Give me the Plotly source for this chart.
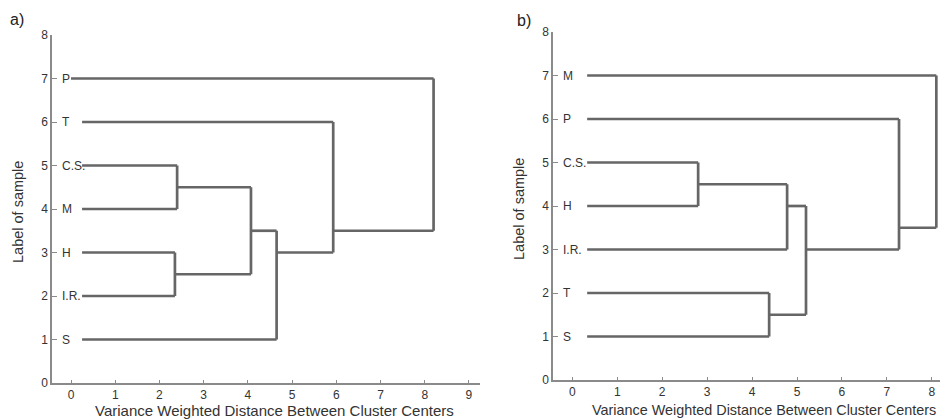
import plotly.graph_objects as go

# ---------------- Panel a data ----------------
leaves_a = ["S", "I.R.", "H", "M", "C.S.", "T", "P"]          # y = 1..7
leaf_start_a = [0.25, 0.25, 0.25, 0.25, 0.25, 0.25, 0.0]
merge_left_a = ["C.S.", "H", "m0", "m2", "m3", "m4"]
merge_right_a = ["M", "I.R.", "m1", "S", "T", "P"]
merge_height_a = [2.4, 2.35, 4.07, 4.65, 5.93, 8.2]
merge_y_a = [4.5, 2.5, 3.5, 3.0, 3.5, 3.5]

# ---------------- Panel b data ----------------
leaves_b = ["S", "T", "I.R.", "H", "C.S.", "P", "M"]          # y = 1..7
leaf_start_b = [0.33, 0.33, 0.33, 0.33, 0.33, 0.33, 0.33]
merge_left_b = ["C.S.", "m0", "T", "m1", "m3", "m4"]
merge_right_b = ["H", "I.R.", "S", "m2", "P", "M"]
merge_height_b = [2.8, 4.78, 4.38, 5.2, 7.27, 8.1]
merge_y_b = [4.5, 4.0, 1.5, 3.0, 3.5, 3.5]

y_ticks = [0, 1, 2, 3, 4, 5, 6, 7, 8]
x_ticks_a = [0, 1, 2, 3, 4, 5, 6, 7, 8, 9]
x_ticks_b = [0, 1, 2, 3, 4, 5, 6, 7, 8]

LINE = "#666666"
AXIS = "#8a8a8a"
TXT = "#333333"
FONT = "Arial, Liberation Sans, sans-serif"
XTITLE = "Variance Weighted Distance Between Cluster Centers"
YTITLE = "Label of sample"


def segments(leaves, starts, left, right, heights, ys):
    pos = {}
    for i, name in enumerate(leaves):
        pos[name] = (starts[i], i + 1)
    xs, yv = [], []
    for i in range(len(heights)):
        h = heights[i]
        for child in (left[i], right[i]):
            cx, cy = pos[child]
            xs += [cx, h, None]
            yv += [cy, cy, None]
        y1 = pos[left[i]][1]
        y2 = pos[right[i]][1]
        xs += [h, h, None]
        yv += [y1, y2, None]
        pos["m%d" % i] = (h, ys[i])
    return xs, yv


fig = go.Figure()
xa, ya = segments(leaves_a, leaf_start_a, merge_left_a, merge_right_a, merge_height_a, merge_y_a)
xb, yb = segments(leaves_b, leaf_start_b, merge_left_b, merge_right_b, merge_height_b, merge_y_b)
fig.add_trace(go.Scatter(x=xa, y=ya, mode="lines", line=dict(color=LINE, width=2.7),
                         xaxis="x", yaxis="y", showlegend=False, hoverinfo="skip"))
fig.add_trace(go.Scatter(x=xb, y=yb, mode="lines", line=dict(color=LINE, width=2.7),
                         xaxis="x2", yaxis="y2", showlegend=False, hoverinfo="skip"))

# page body has an 8px margin, so the figure is drawn offset by 8px
OFF = 8
W, H = 948 - OFF, 419 - OFF


def px_x(p):
    return (p - OFF) / W


def px_y(p):
    return (H - (p - OFF)) / H


common_x = dict(showgrid=False, zeroline=False, showline=True, linecolor=AXIS, linewidth=1.5,
                ticks="inside", ticklen=3, tickcolor=AXIS, tickwidth=1, automargin=False,
                tickfont=dict(family=FONT, size=12, color=TXT))
common_y = dict(showgrid=False, zeroline=False, showline=True, linecolor=AXIS, linewidth=1.5,
                ticks="inside", ticklen=5, tickcolor=AXIS, tickwidth=1, automargin=False,
                tickfont=dict(family=FONT, size=12, color=TXT),
                range=[0, 8], tickvals=y_ticks)

fig.update_layout(
    template="none",
    width=W, height=H,
    margin=dict(l=0, r=0, t=0, b=0, pad=0),
    paper_bgcolor="white", plot_bgcolor="white",
    xaxis=dict(common_x, domain=[px_x(52), px_x(480)], range=[-0.43, 9.25],
               tickvals=x_ticks_a, anchor="y"),
    yaxis=dict(common_y, domain=[px_y(383), px_y(35)], anchor="x"),
    xaxis2=dict(common_x, domain=[px_x(553), 1.0], range=[-0.43, 8.36],
                tickvals=x_ticks_b, anchor="y2"),
    yaxis2=dict(common_y, domain=[px_y(380), px_y(32)], anchor="x2"),
)

ann = []
for i, name in enumerate(leaves_a):
    ann.append(dict(x=-0.22, y=i + 1, xref="x", yref="y", text=name, showarrow=False,
                    xanchor="left", yanchor="middle", xshift=-1, font=dict(family=FONT, size=12, color=TXT)))
for i, name in enumerate(leaves_b):
    ann.append(dict(x=-0.22, y=i + 1, xref="x2", yref="y2", text=name, showarrow=False,
                    xanchor="left", yanchor="middle", xshift=-1, font=dict(family=FONT, size=12, color=TXT)))

ann += [
    dict(x=px_x(274), y=px_y(410), xref="paper", yref="paper", text=XTITLE, showarrow=False,
         xanchor="center", yanchor="middle", font=dict(family=FONT, size=15, color=TXT)),
    dict(x=px_x(764), y=px_y(410), xref="paper", yref="paper", text=XTITLE, showarrow=False,
         xanchor="center", yanchor="middle", font=dict(family=FONT, size=14.4, color=TXT)),
    dict(x=px_x(18), y=px_y(212), xref="paper", yref="paper", text=YTITLE, showarrow=False,
         textangle=-90, xanchor="center", yanchor="middle", font=dict(family=FONT, size=14.5, color=TXT)),
    dict(x=px_x(519), y=px_y(209), xref="paper", yref="paper", text=YTITLE, showarrow=False,
         textangle=-90, xanchor="center", yanchor="middle", font=dict(family=FONT, size=14.5, color=TXT)),
    dict(x=px_x(17), y=px_y(20), xref="paper", yref="paper", text="a)", showarrow=False,
         xanchor="center", yanchor="middle", font=dict(family=FONT, size=16, color="#222222")),
    dict(x=px_x(524), y=px_y(21), xref="paper", yref="paper", text="b)", showarrow=False,
         xanchor="center", yanchor="middle", font=dict(family=FONT, size=16, color="#222222")),
]
fig.update_layout(annotations=ann)

fig.write_html("out.html")
